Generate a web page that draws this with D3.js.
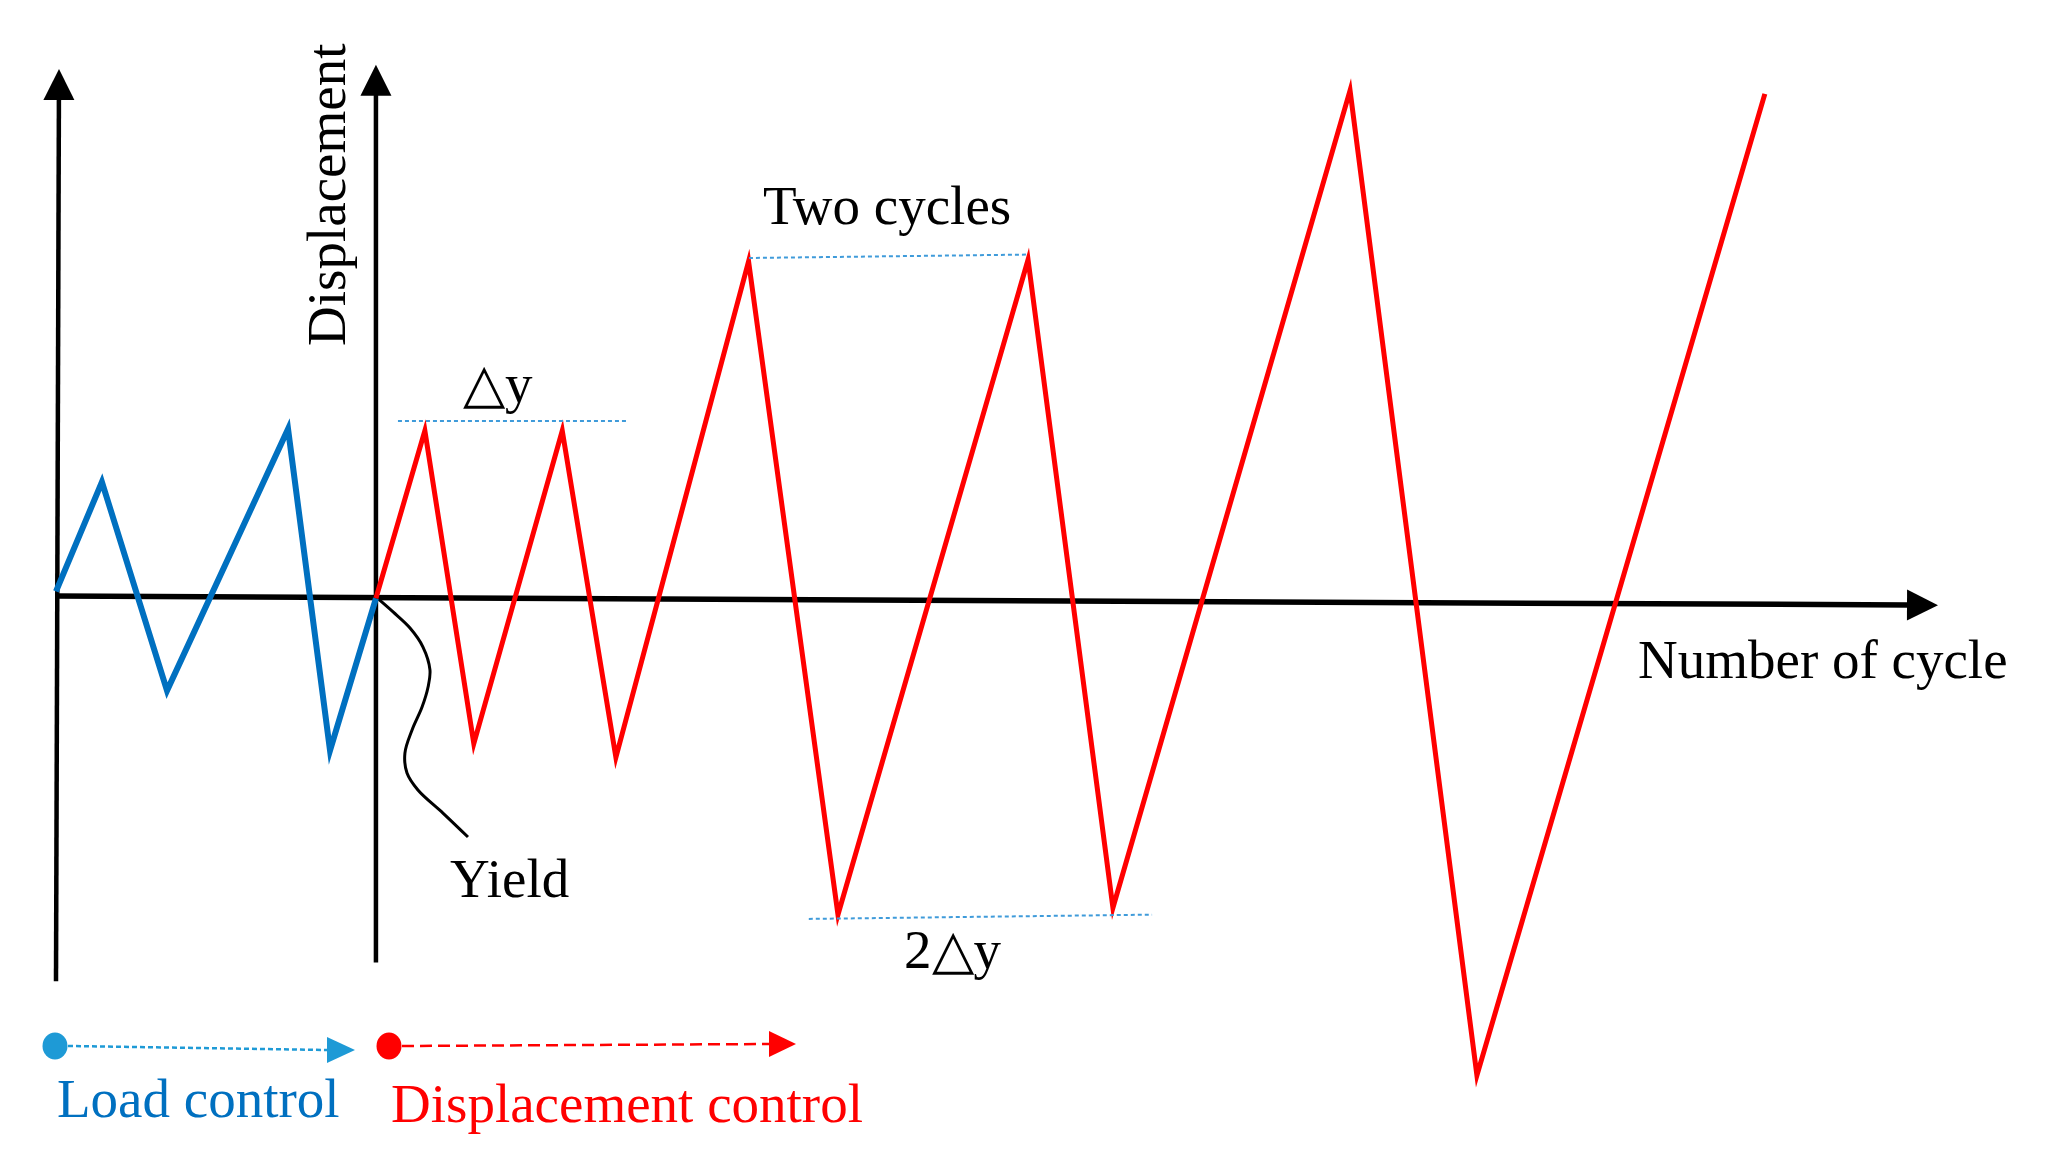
<!DOCTYPE html>
<html><head><meta charset="utf-8">
<script src="https://cdn.jsdelivr.net/npm/d3@7"></script>
<style>html,body{margin:0;padding:0;background:#fff;} svg{display:block;}</style>
</head><body><svg id="chart" width="2046" height="1170"></svg>
<script>
// ---- data: x = position along "Number of cycle", y = displacement in units of Δy ----
const loadCycleX = [0, 2.44, 5.9, 12.33, 14.56, 17.0];
const loadDisp   = [0.05, 0.69, -0.53, 1.0, -0.88, 0.01];
const dispCycleX = [17.0, 19.6, 22.2, 26.9, 29.75, 36.8, 41.55, 51.65, 56.16, 68.76, 75.5, 90.8];
const dispValues = [0.01, 0.99, -0.84, 0.99, -0.92, 1.98, -1.84, 1.99, -1.80, 2.98, -2.78, 2.96];
// yield pointer curve
const yieldCurveX = [17.06, 17.91, 18.81, 19.50, 19.87, 19.77, 19.45, 18.92, 18.54, 18.65, 19.23, 20.56, 21.89];
const yieldCurveY = [0.012, -0.070, -0.164, -0.275, -0.409, -0.509, -0.626, -0.760, -0.895, -1.012, -1.111, -1.246, -1.386];
// reference (dashed) levels
const refLevelNames = ["dy", "twoCycles", "twoDy"];
const refLevelX = [[18.17, 30.29], [36.82, 51.65], [40.0, 58.24]];
const refLevelY = [[1.047, 1.047], [2.0, 2.02], [-1.865, -1.84]];
// labels
const labelTexts = ["△y", "Two cycles", "2△y", "Yield", "Number of cycle"];
const labelX = [21.63, 37.57, 45.06, 20.94, 84.06];
const labelY = [1.158, 2.2, -2.152, -1.737, -0.456];
const yAxisTitle = "Displacement";
const legendTexts = ["Load control", "Displacement control"];

const svg = d3.select("#chart");
const x = d3.scaleLinear().domain([0, 100]).range([56, 1938]);
const y = d3.scaleLinear().domain([0, 3]).range([600, 87]);
const FONT = "'Times New Roman','Liberation Serif',serif";

function arrowLine(g, p1, p2, width, color, head) {
  const [x1, y1] = p1, [x2, y2] = p2;
  const dx = x2 - x1, dy = y2 - y1, L = Math.hypot(dx, dy);
  const ux = dx / L, uy = dy / L;
  const bx = x2 - ux * head, by = y2 - uy * head;
  g.append("line").attr("x1", x1).attr("y1", y1).attr("x2", bx + ux * 2).attr("y2", by + uy * 2)
    .attr("stroke", color).attr("stroke-width", width);
  const hw = head / 2;
  g.append("polygon")
    .attr("points", [[x2, y2], [bx - uy * hw, by + ux * hw], [bx + uy * hw, by - ux * hw]].map(p => p.join(",")).join(" "))
    .attr("fill", color);
}

const axes = svg.append("g");
arrowLine(axes, [x(0), y(-2.23)], [x(0.16), y(3.105)], 4.5, "#000", 31);
arrowLine(axes, [x(17.0), y(-2.12)], [x(17.0), y(3.13)], 4.5, "#000", 31);
arrowLine(axes, [x(0), y(0.023)], [x(100), y(-0.03)], 5.5, "#000", 31);

// yield pointer
const yieldPts = yieldCurveX.map((v, i) => [x(v), y(yieldCurveY[i])]);
svg.append("path").attr("d", d3.line().curve(d3.curveCatmullRom)(yieldPts))
  .attr("fill", "none").attr("stroke", "#000").attr("stroke-width", 3);

const line = d3.line().x(d => x(d[0])).y(d => y(d[1]));
svg.append("path").attr("d", line(loadCycleX.map((v, i) => [v, loadDisp[i]])))
  .attr("fill", "none").attr("stroke", "#0070C0").attr("stroke-width", 6)
  .attr("stroke-linejoin", "miter").attr("stroke-miterlimit", 10);
svg.append("path").attr("d", line(dispCycleX.map((v, i) => [v, dispValues[i]])))
  .attr("fill", "none").attr("stroke", "#FF0000").attr("stroke-width", 5)
  .attr("stroke-linejoin", "miter").attr("stroke-miterlimit", 10);

// dashed reference levels
refLevelNames.forEach((n, i) => {
  svg.append("line").attr("x1", x(refLevelX[i][0])).attr("y1", y(refLevelY[i][0]))
    .attr("x2", x(refLevelX[i][1])).attr("y2", y(refLevelY[i][1]))
    .attr("stroke", "#3F9BDA").attr("stroke-width", 2).attr("stroke-dasharray", "4 3");
});

// labels
labelTexts.forEach((t, i) => {
  svg.append("text").attr("x", x(labelX[i])).attr("y", y(labelY[i]))
    .attr("font-family", FONT).attr("font-size", 55).attr("fill", "#000").text(t);
});
svg.append("text").attr("transform", `translate(${x(15.36)},${y(2.37)}) rotate(-90)`)
  .attr("text-anchor", "middle").attr("font-family", FONT).attr("font-size", 55).attr("fill", "#000")
  .text(yAxisTitle);

// legend
const lg = svg.append("g");
const legendColors = ["#1E9AD6", "#FF0000"];
const legendMarker = [[55, 1046, 327, 1050, 355], [389, 1046, 769, 1044, 796]];
const legendDash = ["5 3", "12 6"];
const legendTextColor = ["#0070C0", "#FF0000"];
const legendTextPos = [[57, 1117], [391, 1122]];
legendMarker.forEach((m, i) => {
  lg.append("line").attr("x1", m[0] + 13).attr("y1", m[1]).attr("x2", m[2]).attr("y2", m[3])
    .attr("stroke", legendColors[i]).attr("stroke-width", 2.5).attr("stroke-dasharray", legendDash[i]);
  lg.append("ellipse").attr("cx", m[0]).attr("cy", m[1]).attr("rx", 12.5).attr("ry", 13.5).attr("fill", legendColors[i]);
  lg.append("polygon").attr("points", `${m[4]},${m[3]} ${m[2]},${m[3] - 13} ${m[2]},${m[3] + 13}`).attr("fill", legendColors[i]);
  lg.append("text").attr("x", legendTextPos[i][0]).attr("y", legendTextPos[i][1])
    .attr("font-family", FONT).attr("font-size", 55).attr("fill", legendTextColor[i]).text(legendTexts[i]);
});
</script></body></html>
